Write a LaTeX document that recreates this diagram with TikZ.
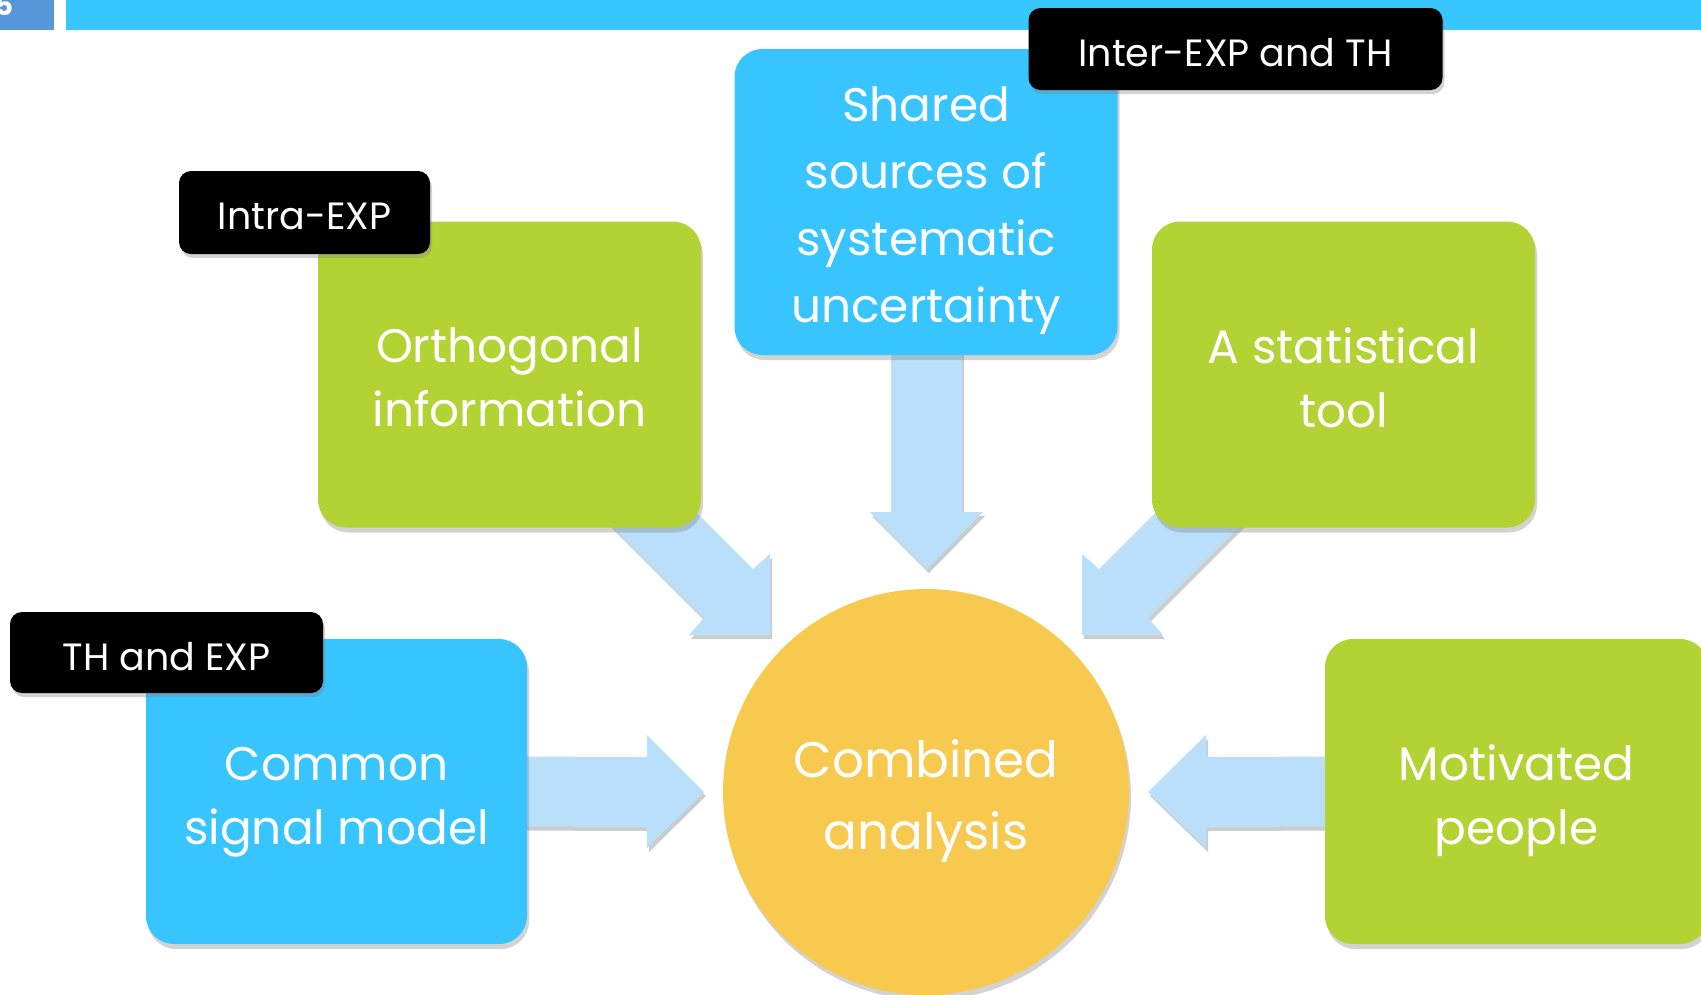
\documentclass[tikz,border=0pt]{standalone}
\usepackage{fontspec}
\setmainfont{Poppins}
\usetikzlibrary{shadows,backgrounds,calc}
\definecolor{barblue}{HTML}{38C6FF}
\definecolor{pagebox}{HTML}{5597D8}
\definecolor{boxgreen}{HTML}{B3D335}
\definecolor{boxblue}{HTML}{38C4FF}
\definecolor{circy}{HTML}{F7C94F}
\definecolor{arrowc}{HTML}{BADFFB}
\begin{document}
\begin{tikzpicture}[x=1pt,y=-1pt,
  box/.style={rounded corners=28pt, minimum width=383pt, minimum height=306pt, inner sep=0pt,
    drop shadow={shadow xshift=2pt, shadow yshift=-5pt, opacity=0.35}},
  btext/.style={text=white, align=center, inner sep=0pt, font=\fontsize{47}{64}\selectfont},
  tag/.style={rounded corners=12pt, fill=black, text=white, inner sep=0pt,
    font=\fontsize{38}{46}\selectfont,
    drop shadow={shadow xshift=2pt, shadow yshift=-4pt, opacity=0.35}},
  barrow/.style={fill=arrowc, drop shadow={shadow xshift=2pt, shadow yshift=-4pt, opacity=0.4}}]
\useasboundingbox (0,0) rectangle (1701,994);
\clip (0,0) rectangle (1701,994);
% header
\fill[pagebox] (0,0) rectangle (54,30);
\fill[barblue] (66,0) rectangle (1701,30);
\node[anchor=base, text=white, font=\fontsize{28}{30}\selectfont\bfseries, inner sep=0pt] (pg) at (4,15) {5};
% boxes
\node[box, fill=boxgreen] (orth) at (509.5,374.5) {};
\node[box, fill=boxblue] (shared) at (926,202) {};
\node[box, fill=boxgreen] (stat) at (1343.5,374.5) {};
\node[box, fill=boxblue, minimum height=305pt, minimum width=381pt] (common) at (336.5,791.5) {};
\node[box, fill=boxgreen, minimum height=305pt] (motiv) at (1516.5,791.5) {};
\node[circle, fill=circy, minimum size=406pt, inner sep=0pt,
  drop shadow={shadow xshift=2pt, shadow yshift=-5pt, opacity=0.35}] (comb) at (926,792) {};
% texts
\node[btext] (orthT) at ($(orth.center)+(0,3)$) {Orthogonal\\information};
\node[btext, font=\fontsize{47}{67}\selectfont] (sharedT) at ($(shared.center)+(0,9)$) {Shared\\sources of\\systematic\\uncertainty};
\node[btext] (statT) at ($(stat.center)+(0,3)$) {A statistical\\tool};
\node[btext] (commonT) at ($(common.center)+(0,11)$) {Common\\signal model};
\node[btext] (motivT) at ($(motiv.center)+(0,9)$) {Motivated\\people};
\node[btext, font=\fontsize{50}{72}\selectfont] (combT) at ($(comb.center)+(0,9)$) {Combined\\analysis};
% tags
\node[tag, minimum width=251pt, minimum height=83pt] (intra) at (304.5,212.5) {};
\node[tag, minimum width=414pt, minimum height=82pt] (inter) at (1235.5,49) {};
\node[tag, minimum width=313pt, minimum height=81pt] (thexp) at (166.5,652.5) {};
\node[btext, font=\fontsize{38}{46}\selectfont] (intraT) at ($(intra.center)+(0,4)$) {Intra-EXP};
\node[btext, font=\fontsize{38}{46}\selectfont] (interT) at ($(inter.center)+(0,4)$) {Inter-EXP and TH};
\node[btext, font=\fontsize{38}{46}\selectfont] (thexpT) at ($(thexp.center)+(0,4)$) {TH and EXP};
% block arrows behind
\begin{scope}[on background layer]
\fill[barrow] ($(shared.south)+(-35,-10)$) -- ($(shared.south)+(36,-10)$) -- (962,512) -- (983,512) -- (927,569) -- (870,512) -- (891,512) -- cycle;
\fill[barrow] (642,458) -- (753,569) -- (770,554) -- (770,635) -- (689,635) -- (704,618) -- (593,507) -- cycle;
\fill[barrow] (1210,458) -- (1099,569) -- (1082,554) -- (1082,635) -- (1163,635) -- (1148,618) -- (1259,507) -- cycle;
\fill[barrow] ($(common.east)+(-20,-35)$) -- (647,757) -- (647,735) -- (704,792) -- (647,848) -- (647,827) -- ($(common.east)+(-20,35)$) -- cycle;
\fill[barrow] ($(motiv.west)+(20,-35)$) -- (1206,757) -- (1206,735) -- (1148,792) -- (1206,848) -- (1206,827) -- ($(motiv.west)+(20,35)$) -- cycle;
\end{scope}
\end{tikzpicture}
\end{document}
